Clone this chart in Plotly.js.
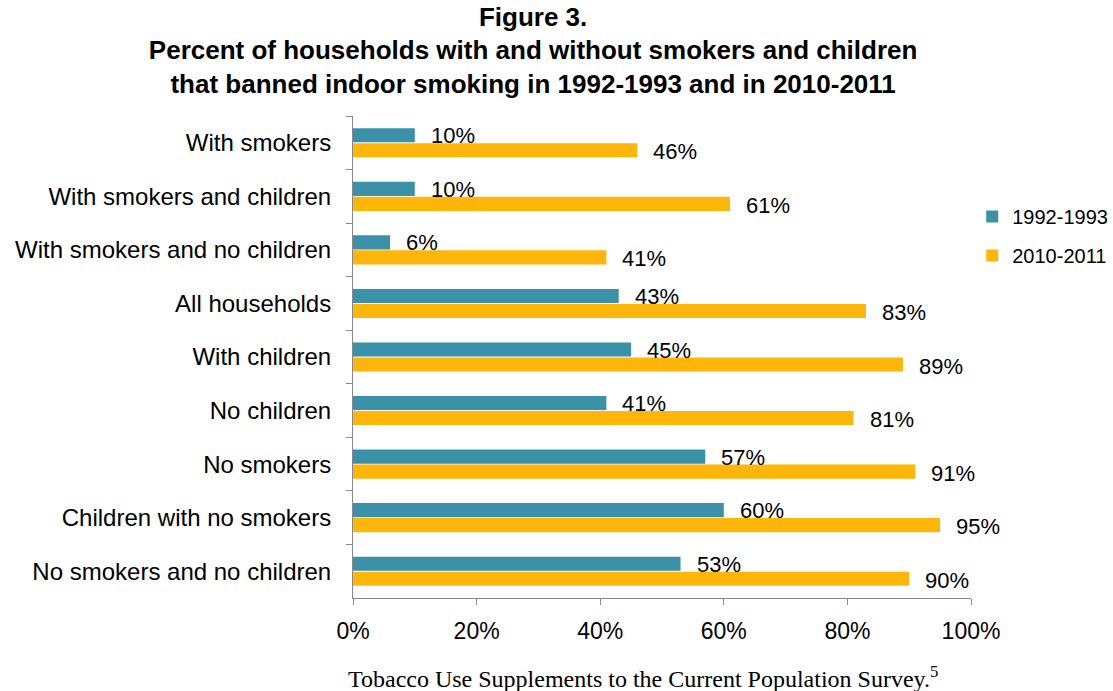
<!DOCTYPE html>
<html><head><meta charset="utf-8">
<script src="https://cdn.plot.ly/plotly-3.0.1.min.js"></script>
<style>html,body{margin:0;padding:0;background:#fff}</style>
</head><body><div id="chart" style="width:1113px;height:691px"></div>
<script>
var categories = ["With smokers","With smokers and children","With smokers and no children","All households","With children","No children","No smokers","Children with no smokers","No smokers and no children"];
var seriesNames = ["1992-1993","2010-2011"];
var values1992 = [10,10,6,43,45,41,57,60,53];
var values2010 = [46,61,41,83,89,81,91,95,90];
var xTickVals = [0,20,40,60,80,100];
var xTickText = ["0%","20%","40%","60%","80%","100%"];

var colors = ["#3A91A8","#FFB60A"];
var font = "Liberation Sans, Arial, sans-serif";

var traces = [values1992, values2010].map(function(v, i){
  return {type:"bar", orientation:"h", name:seriesNames[i], x:v, y:categories,
    legendgroup:"g"+i, marker:{color:colors[i]}, hoverinfo:"x+y"};
});

var ann = [];
[values1992, values2010].forEach(function(v, i){
  v.forEach(function(val, j){
    ann.push({x:val, y:categories[j], xref:"x", yref:"y", text:val+"%", showarrow:false,
      xanchor:"left", yanchor:"middle", xshift:14, yshift:(i===0? 7 : -9),
      font:{family:font, size:22, color:"#000"}});
  });
});
ann.push({xref:"paper", yref:"paper", x:-0.011, y:-0.164, xanchor:"left", yanchor:"middle",
  showarrow:false, text:"Tobacco Use Supplements to the Current Population Survey.<sup>5</sup>",
  font:{family:"Liberation Serif, Times New Roman, serif", size:24, color:"#000"}});

var layout = {
  width:1113, height:691,
  margin:{l:353, r:142, t:116, b:93, autoexpand:false},
  paper_bgcolor:"#fff", plot_bgcolor:"#fff",
  title:{text:"<b>Figure 3.<br>Percent of households with and without smokers and children<br>that banned indoor smoking in 1992-1993 and in 2010-2011</b>",
    font:{family:font, size:26, color:"#000"}, xref:"container", x:0.479, xanchor:"center",
    yref:"container", y:0.963, yanchor:"top"},
  barmode:"group", bargap:0.44, bargroupgap:0.06,
  showlegend:true,
  legend:{x:1.002, y:0.751, xanchor:"left", yanchor:"middle", font:{family:font, size:20, color:"#000"},
    traceorder:"grouped", tracegroupgap:10, itemwidth:30},
  xaxis:{range:[0,100], tickvals:xTickVals, ticktext:xTickText, showgrid:false, zeroline:false,
    showline:true, linecolor:"#888", linewidth:1, ticks:"outside", ticklen:6, tickcolor:"#888",
    ticklabelstandoff:6,
    tickfont:{family:font, size:23, color:"#000"}, fixedrange:true},
  yaxis:{type:"category", autorange:"reversed", showgrid:false, zeroline:false,
    showline:true, linecolor:"#888", linewidth:1, ticks:"outside", ticklen:6, tickcolor:"#888",
    tickson:"boundaries", ticklabelstandoff:16,
    tickfont:{family:font, size:24, color:"#000"}, fixedrange:true},
  annotations:ann
};
Plotly.newPlot("chart", traces, layout, {displayModeBar:false, staticPlot:true});
</script></body></html>
